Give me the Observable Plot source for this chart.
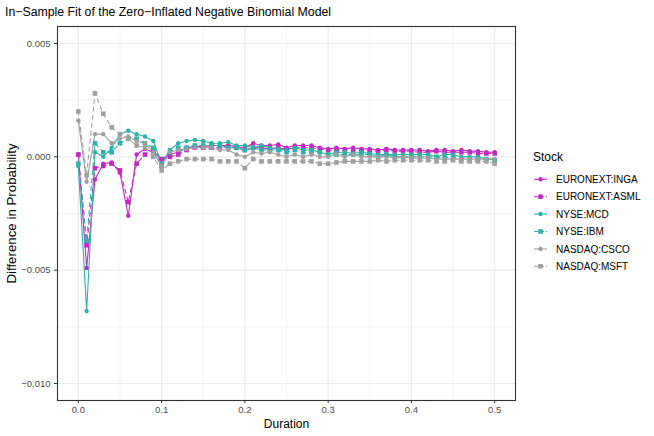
<!DOCTYPE html>
<html><head><meta charset="utf-8">
<script src="https://cdn.jsdelivr.net/npm/d3@7"></script>
<script src="https://cdn.jsdelivr.net/npm/@observablehq/plot@0.6"></script>
<style>
body{margin:0;background:#fff;font-family:"Liberation Sans",Arial,sans-serif;}
#wrap{position:relative;width:654px;height:436px;overflow:hidden;}
#title{height:20px;line-height:20px;padding-left:5px;padding-top:2px;box-sizing:border-box;font-size:12.3px;color:#000;white-space:nowrap;}
#plot{position:absolute;left:0;top:20px;}
#legend{position:absolute;left:520px;top:0;}
</style></head><body>
<div id="wrap">
<div id="title">In−Sample Fit of the Zero−Inflated Negative Binomial Model</div>
<div id="plot"></div>
<svg id="legend" width="134" height="436"></svg>
</div>
<script>
const durations = [0.00,0.01,0.02,0.03,0.04,0.05,0.06,0.07,0.08,0.09,0.10,0.11,0.12,0.13,0.14,0.15,0.16,0.17,0.18,0.19,0.20,0.21,0.22,0.23,0.24,0.25,0.26,0.27,0.28,0.29,0.30,0.31,0.32,0.33,0.34,0.35,0.36,0.37,0.38,0.39,0.40,0.41,0.42,0.43,0.44,0.45,0.46,0.47,0.48,0.49,0.50];

const stocks = ["EURONEXT:INGA","EURONEXT:ASML","NYSE:MCD","NYSE:IBM","NASDAQ:CSCO","NASDAQ:MSFT"];

const inga = [0.0001,-0.0049,-0.0010,-0.0003,-0.00025,-0.0007,-0.0026,0.0001,0.00035,0.0002,-0.0001,
  0.0001,0.0002,0.0004,0.00045,0.00045,0.0005,0.0005,0.0005,0.00045,0.0004,
  0.0006,0.0005,0.0005,0.00055,0.0004,0.0005,0.0005,0.0005,0.0004,0.00035,
  0.0004,0.00035,0.0004,0.00035,0.00035,0.0003,0.00035,0.0003,0.0003,0.0003,
  0.0003,0.00025,0.0003,0.0003,0.00025,0.0003,0.00025,0.00025,0.0002,0.0002];
const asml = [0.0001,-0.0039,-0.0005,-0.0004,-0.0003,-0.0006,-0.0020,-0.0003,0.0001,0.0003,-0.0001,
  0.0000,0.0001,0.0003,0.0004,0.0004,0.0004,0.0004,0.00045,0.0004,0.0003,
  0.0004,0.0004,0.00035,0.0004,0.00035,0.0004,0.0004,0.0004,0.00035,0.0003,
  0.0003,0.0003,0.0003,0.0003,0.00025,0.00025,0.0003,0.00025,0.00025,0.00025,
  0.0002,0.0002,0.00025,0.0002,0.0002,0.0002,0.0002,0.00015,0.00015,0.00015];
const mcd = [-0.0004,-0.0068,0.0002,0.0000,0.0004,0.0010,0.00115,0.0010,0.0009,0.0007,-0.0003,
  0.0003,0.0006,0.0007,0.00075,0.0007,0.0006,0.0006,0.00065,0.0005,0.0005,
  0.0004,0.0005,0.0004,0.00035,0.0003,0.0004,0.0003,0.0003,0.0002,0.0001,
  0.0002,0.0002,0.00015,0.0002,0.00015,0.0001,0.0001,0.0001,0.0001,0.0001,
  0.0001,0.0001,0.0000,0.0001,0.0001,0.0000,0.0000,0.0000,-0.0001,-0.0001];
const ibm = [-0.0003,-0.0037,0.0006,0.0002,0.0002,0.0006,0.0008,0.0008,0.0006,0.0004,-0.0004,
  0.0002,0.0004,0.0004,0.0005,0.0005,0.0005,0.0005,0.0004,0.0004,0.0003,
  0.0004,0.0003,0.0003,0.0003,0.0002,0.0003,0.0002,0.0002,0.0002,0.0001,
  0.0001,0.0001,0.0001,0.0001,0.0001,0.0000,0.0001,0.0000,0.0000,0.0000,
  0.0000,0.0000,0.0000,-0.00005,0.0000,-0.0001,-0.0001,-0.0001,-0.0001,-0.00015];
const csco = [0.0016,-0.0011,0.0010,0.0010,0.0006,0.0008,0.0009,0.0007,0.0006,0.0002,-0.0004,
  0.0002,0.0003,0.00035,0.0004,0.0004,0.0004,0.0003,0.0003,0.0001,0.0000,
  0.0002,0.00015,0.0002,0.0001,0.0000,0.0001,0.0000,0.0001,0.0000,0.0000,
  0.0001,0.0000,0.0001,0.0000,0.0000,0.0000,0.0000,-0.00005,0.0000,-0.00005,
  -0.00005,-0.00005,-0.0001,-0.0001,-0.0001,-0.0001,-0.0001,-0.0001,-0.0001,-0.0001];
const msft = [0.0020,-0.0008,0.0028,0.0019,0.0013,0.0010,0.0008,0.0005,0.0004,0.0000,-0.0006,
  -0.0003,-0.0002,-0.0001,-0.0001,-0.0001,-0.0001,-0.0002,-0.0002,-0.0002,-0.0005,
  -0.0001,-0.0002,-0.0002,-0.0002,-0.0002,-0.0002,-0.0002,-0.0002,-0.0003,-0.0003,
  -0.00025,-0.0002,-0.0002,-0.0002,-0.0002,-0.00015,-0.0002,-0.00015,-0.00015,-0.00015,
  -0.00015,-0.00015,-0.0002,-0.0002,-0.00015,-0.0002,-0.0002,-0.0002,-0.0002,-0.0003];

const xTicks = [0.0,0.1,0.2,0.3,0.4,0.5];
const xMinor = [0.05,0.15,0.25,0.35,0.45];
const yTicks = [-0.010,-0.005,0.000,0.005];
const yMinor = [-0.0075,-0.0025,0.0025];

const seriesValues = [inga, asml, mcd, ibm, csco, msft];
const colors = ["#C22AC2","#C22AC2","#2FB1A6","#2FB1A6","#A0A0A0","#A0A0A0"];
const dashed = [false,true,false,true,false,true];
const symbols = ["circle","square","circle","square","circle","square"];

const rows = stocks.map((s, i) => durations.map((d, j) => ({stock: s, d, v: seriesValues[i][j]})));

const marks = [
  Plot.gridX(xMinor, {stroke:"#EBEBEB", strokeOpacity:1, strokeWidth:0.55}),
  Plot.gridY(yMinor, {stroke:"#EBEBEB", strokeOpacity:1, strokeWidth:0.55}),
  Plot.gridX(xTicks, {stroke:"#EBEBEB", strokeOpacity:1, strokeWidth:1.1}),
  Plot.gridY(yTicks, {stroke:"#EBEBEB", strokeOpacity:1, strokeWidth:1.1})
];
stocks.forEach((s, i) => {
  marks.push(Plot.line(rows[i], {x:"d", y:"v", stroke:colors[i], strokeWidth:1.1, strokeDasharray: dashed[i] ? "4,4" : null}));
});
stocks.forEach((s, i) => {
  marks.push(Plot.dot(rows[i], {x:"d", y:"v", fill:colors[i], stroke:"none", symbol:symbols[i], r: symbols[i]==="square" ? 2.6 : 2.2}));
});
marks.push(Plot.frame({stroke:"#333333", strokeWidth:1.1}));
marks.push(Plot.axisX(xTicks, {tickFormat:d3.format(".1f"), tickSize:3, tickPadding:3, stroke:"#333333", fill:"#4D4D4D",
  label:"Duration", labelAnchor:"center", labelArrow:"none", labelOffset:27}));
marks.push(Plot.axisY(yTicks, {tickFormat:d3.format(".3f"), tickSize:3, tickPadding:4, stroke:"#333333", fill:"#4D4D4D",
  label:"Difference in Probability", labelAnchor:"center", labelArrow:"none", labelOffset:51}));

const chart = Plot.plot({
  width:520, height:416,
  marginLeft:57, marginRight:5, marginTop:6, marginBottom:36,
  style:{fontFamily:"'Liberation Sans', Arial, sans-serif", fontSize:"9.5px", background:"#fff", overflow:"visible"},
  x:{domain:[-0.025,0.525]},
  y:{domain:[-0.01075,0.00575]},
  marks
});
document.getElementById("plot").appendChild(chart);
d3.select(chart).selectAll('[aria-label="x-axis label"]').attr("fill","#000").style("font-size","12px");
d3.select(chart).selectAll('[aria-label="y-axis label"]').attr("fill","#000").style("font-size","13.3px");

// legend
const lg = d3.select("#legend");
lg.append("text").attr("x",13).attr("y",161).attr("font-size","12px").attr("fill","#000").text("Stock");
const ys = [179.3,196.7,214,231.5,249,266.3];
stocks.forEach((s, i) => {
  const g = lg.append("g").attr("transform",`translate(0,${ys[i]})`);
  g.append("line").attr("x1",14).attr("x2",27).attr("y1",0).attr("y2",0)
    .attr("stroke",colors[i]).attr("stroke-width",1.1).attr("stroke-dasharray", dashed[i] ? "4,2" : null);
  if (symbols[i]==="circle") g.append("circle").attr("cx",20.5).attr("cy",0).attr("r",2.2).attr("fill",colors[i]);
  else g.append("rect").attr("x",18.2).attr("y",-2.3).attr("width",4.6).attr("height",4.6).attr("fill",colors[i]);
  g.append("text").attr("x",36).attr("y",3.6).attr("font-size","10px").attr("fill","#000").text(s);
});
</script>
</body></html>
